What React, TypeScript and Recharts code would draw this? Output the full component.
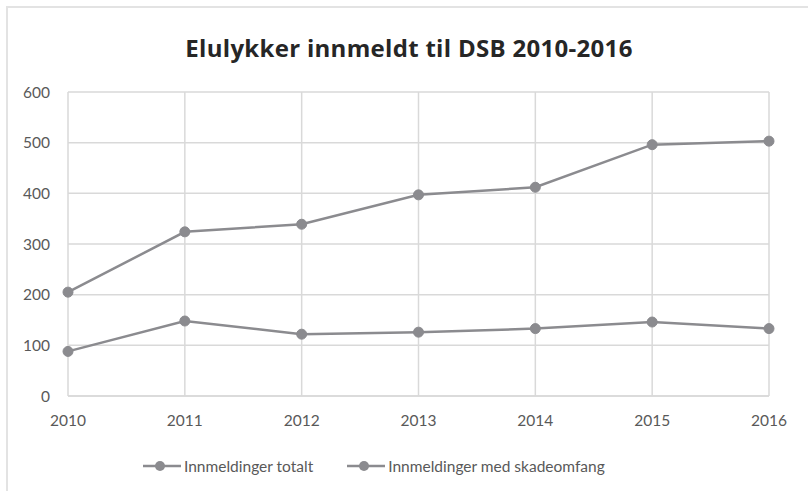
import React from "react";
import { LineChart, Line, XAxis, YAxis, CartesianGrid, Legend } from "recharts";

const years = ["2010", "2011", "2012", "2013", "2014", "2015", "2016"];
const totalt = [205, 324, 339, 397, 412, 496, 503];
const medSkadeomfang = [88, 148, 122, 126, 133, 146, 133];
const yTicks = [0, 100, 200, 300, 400, 500, 600];

const seriesNames = ["Innmeldinger totalt", "Innmeldinger med skadeomfang"];

const data = years.map((year, i) => ({
  year,
  totalt: totalt[i],
  skade: medSkadeomfang[i],
}));

const LINE = "#8b8b8f";
const TEXT = "#595959";
const GRID = "#d9d9d9";
const FONT = "Lato, 'Open Sans', sans-serif";

// legend med linje + punkt, som i Excel
function LegendContent() {
  return (
    <div style={{ display: "flex", justifyContent: "flex-start", gap: 34, fontFamily: FONT, fontSize: 15.5, color: TEXT, paddingLeft: 143, paddingTop: 6 }}>
      {seriesNames.map((name) => (
        <div key={name} style={{ display: "flex", alignItems: "center" }}>
          <svg width={38} height={12} style={{ marginRight: 3 }}>
            <line x1={0} y1={6} x2={38} y2={6} stroke={LINE} strokeWidth={2.5} />
            <circle cx={17} cy={6} r={5} fill={LINE} />
          </svg>
          <span>{name}</span>
        </div>
      ))}
    </div>
  );
}

export default function App() {
  return (
    <div style={{ position: "absolute", left: 0, top: 0, width: 808, height: 491, background: "#fff" }}>
      <div
        style={{
          position: "absolute",
          left: 6,
          top: 6,
          width: 810,
          height: 500,
          borderLeft: "2px solid #e3e3e3",
          borderTop: "2px solid #e3e3e3",
        }}
      />
      <div
        style={{
          position: "absolute",
          left: 0,
          width: 818,
          top: 31,
          textAlign: "center",
          fontFamily: "'Open Sans', sans-serif",
          fontWeight: 700,
          fontSize: 24,
          letterSpacing: 0.3,
          color: "#262626",
        }}
      >
        Elulykker innmeldt til DSB 2010-2016
      </div>
      <LineChart width={808} height={491} data={data} margin={{ top: 92, right: 39, left: 0, bottom: 10 }}>
        <CartesianGrid stroke={GRID} strokeWidth={1.5} vertical horizontal />
        <XAxis
          dataKey="year"
          height={55}
          tickLine={false}
          tickSize={0}
          tickMargin={19}
          axisLine={{ stroke: GRID, strokeWidth: 1.5 }}
          tick={{ fill: TEXT, fontSize: 15.5, fontFamily: FONT }}
          interval={0}
        />
        <YAxis
          width={68}
          domain={[0, 600]}
          ticks={yTicks}
          tickLine={false}
          axisLine={false}
          tickSize={0}
          tickMargin={18}
          tick={{ fill: TEXT, fontSize: 15.5, fontFamily: FONT }}
        />
        <Legend verticalAlign="bottom" content={<LegendContent />} wrapperStyle={{ height: 30 }} />
        <Line
          dataKey="totalt"
          name={seriesNames[0]}
          stroke={LINE}
          strokeWidth={2.5}
          dot={{ r: 5, fill: LINE, stroke: LINE, strokeWidth: 1 }}
          isAnimationActive={false}
        />
        <Line
          dataKey="skade"
          name={seriesNames[1]}
          stroke={LINE}
          strokeWidth={2.5}
          dot={{ r: 5, fill: LINE, stroke: LINE, strokeWidth: 1 }}
          isAnimationActive={false}
        />
      </LineChart>
    </div>
  );
}
